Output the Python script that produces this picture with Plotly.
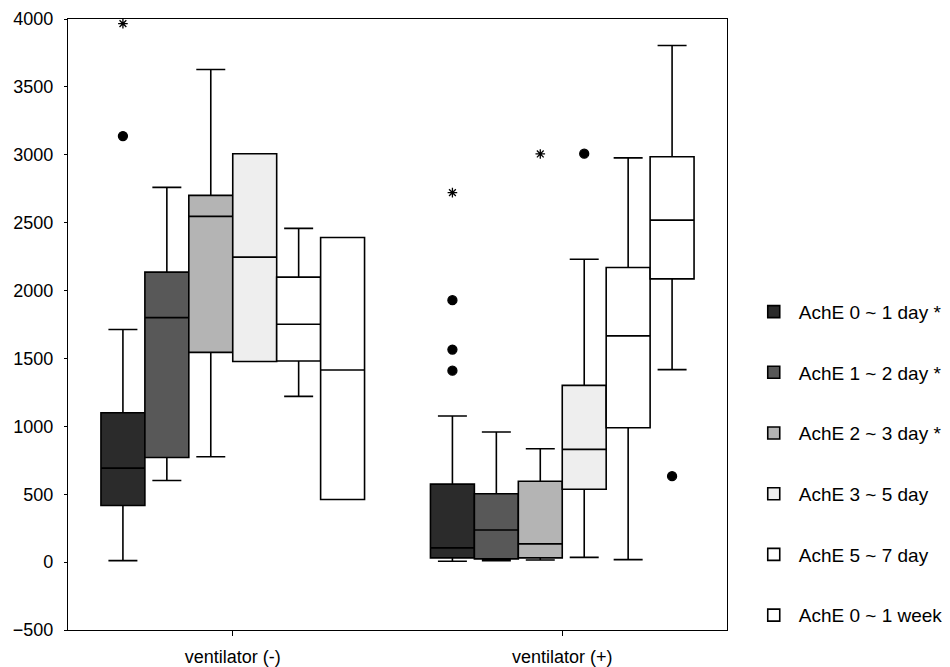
import plotly.graph_objects as go

categories = ["ventilator (-)", "ventilator (+)"]
series = ["AchE 0 ~ 1 day *", "AchE 1 ~ 2 day *", "AchE 2 ~ 3 day *",
          "AchE 3 ~ 5 day", "AchE 5 ~ 7 day", "AchE 0 ~ 1 week"]
fills = ["#2b2b2b", "#585858", "#b4b4b4", "#eeeeee", "#ffffff", "#ffffff"]

# per series: [ventilator (-), ventilator (+)]
q1 =     [[417, 31], [771, 24], [1545, 31], [1477, 537], [1481, 990], [461, 2086]]
median = [[692, 105], [1801, 237], [2546, 134], [2246, 830], [1752, 1666], [1415, 2519]]
q3 =     [[1100, 574], [2136, 503], [2701, 596], [3008, 1302], [2099, 2170], [2391, 2986]]
lower =  [[11, 6], [601, 11], [776, 16], [1477, 35], [1221, 18], [461, 1418]]
upper =  [[1713, 1076], [2760, 958], [3628, 835], [3008, 2231], [2458, 2977], [2391, 3805]]

# outliers: category index, series index, value, kind
out_cat =    [0, 0, 1, 1, 1, 1, 1, 1, 1]
out_series = [0, 0, 0, 0, 0, 0, 2, 3, 5]
out_value =  [3966, 3138, 2721, 1929, 1565, 1410, 3006, 3008, 633]
out_kind =   ["star", "dot", "star", "dot", "dot", "dot", "star", "dot", "dot"]

yticks = [-500, 0, 500, 1000, 1500, 2000, 2500, 3000, 3500, 4000]

group_w = 0.8
box_w = group_w / len(series)


def pos(ci, si):
    return ci + (si - (len(series) - 1) / 2) * box_w


fig = go.Figure()
for si, name in enumerate(series):
    fig.add_trace(go.Box(
        name=name,
        x=[pos(ci, si) for ci in range(len(categories))],
        q1=q1[si], median=median[si], q3=q3[si],
        lowerfence=lower[si], upperfence=upper[si],
        width=box_w,
        fillcolor=fills[si],
        line=dict(color="black", width=1.6),
        whiskerwidth=0.66,
        boxpoints=False,
        legendgroup=name,
        hoverinfo="y",
    ))

for kind, sym in [("dot", "circle"), ("star", "asterisk-open")]:
    xs = [pos(c, s) for c, s, k in zip(out_cat, out_series, out_kind) if k == kind]
    ys = [v for v, k in zip(out_value, out_kind) if k == kind]
    fig.add_trace(go.Scatter(
        x=xs, y=ys, mode="markers", showlegend=False,
        marker=dict(symbol=sym, size=9 if kind == "dot" else 8, color="black",
                    line=dict(color="black", width=1.3)),
    ))

fig.update_layout(
    width=950, height=667,
    margin=dict(l=68, r=223, t=19, b=37, autoexpand=False),
    paper_bgcolor="white", plot_bgcolor="white",
    font=dict(family="Liberation Sans, Arial, sans-serif", size=18, color="black"),
    showlegend=True,
    legend=dict(
        x=1.033, y=0.552, xanchor="left", yanchor="top",
        traceorder="grouped", tracegroupgap=33,
        font=dict(size=19), itemwidth=40,
        bgcolor="rgba(0,0,0,0)",
    ),
)
fig.update_xaxes(
    range=[-0.5, 1.5], tickvals=list(range(len(categories))), ticktext=categories,
    showline=True, linecolor="black", linewidth=1.3, mirror=True,
    ticks="outside", ticklen=5, tickcolor="black", showgrid=False, zeroline=False,
    tickfont=dict(size=18), ticklabelstandoff=5, automargin=False,
)
fig.update_yaxes(
    range=[-500, 4000], tickvals=yticks,
    showline=True, linecolor="black", linewidth=1.3, mirror=True,
    ticks="outside", ticklen=3, tickcolor="black", showgrid=False, zeroline=False,
    tickfont=dict(size=18), ticklabelstandoff=7, automargin=False,
)

fig.write_html("out.html")
